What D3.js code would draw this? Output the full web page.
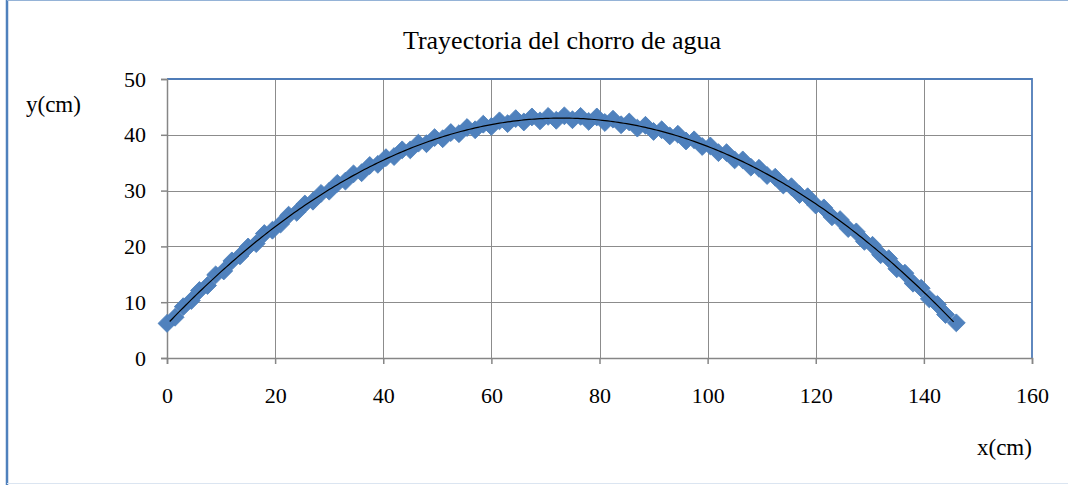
<!DOCTYPE html>
<html>
<head>
<meta charset="utf-8">
<script src="https://cdn.jsdelivr.net/npm/d3@7"></script>
<style>
html,body{margin:0;padding:0;background:#fff;}
svg{display:block;}
text{font-family:"Liberation Serif","Times New Roman",serif;fill:#000;}
</style>
</head>
<body>
<svg id="chart" width="1068" height="485"></svg>
<script>
const chartTitle = "Trayectoria del chorro de agua";
const xAxisTitle = "x(cm)";
const yAxisTitle = "y(cm)";
const xTicks = [0, 20, 40, 60, 80, 100, 120, 140, 160];
const yTicks = [0, 10, 20, 30, 40, 50];
const xValues = [0,1.5,3,4.5,6,7.5,9,10.5,12,13.5,15,16.5,18,19.5,21,22.5,24,25.5,27,28.5,
  30,31.5,33,34.5,36,37.5,39,40.5,42,43.5,45,46.5,48,49.5,51,52.5,54,55.5,57,58.5,
  60,61.5,63,64.5,66,67.5,69,70.5,72,73.5,75,76.5,78,79.5,81,82.5,84,85.5,87,88.5,
  90,91.5,93,94.5,96,97.5,99,100.5,102,103.5,105,106.5,108,109.5,111,112.5,114,115.5,117,118.5,
  120,121.5,123,124.5,126,127.5,129,130.5,132,133.5,135,136.5,138,139.5,141,142.5,144,146];
const yValues = [6.2,7.3,9.2,10.3,12.1,13.0,14.9,15.6,17.4,18.3,19.9,20.5,22.3,22.9,24.0,25.6,26.1,27.6,28.1,29.5,
  29.9,31.3,31.7,33.0,33.2,34.5,34.7,35.9,36.1,37.3,37.3,38.5,38.4,39.5,39.3,40.4,40.2,41.3,40.9,41.9,
  41.5,42.5,42.0,42.9,42.3,43.2,42.5,43.3,42.6,43.4,42.7,43.3,42.4,43.2,42.2,42.8,41.8,42.3,41.2,41.7,
  40.6,40.9,39.8,40.1,38.9,39.1,37.9,38.0,36.8,36.8,35.5,35.5,34.2,34.0,32.7,32.4,31.0,30.7,29.3,28.9,
  27.4,26.9,25.3,24.8,23.2,22.6,20.9,20.2,18.5,17.8,16.0,15.2,13.4,12.5,10.6,9.6,7.8,6.3];

(function () {
const data = xValues.map((x, i) => ({x, y: yValues[i]}));

const svg = d3.select("#chart");
const W = 1068, H = 485;
const pLeft = 167, pRight = 1032, pTop = 79, pBottom = 358;

const x = d3.scaleLinear().domain([0, 160]).range([pLeft, pRight]);
const y = d3.scaleLinear().domain([0, 50]).range([pBottom, pTop]);

// outer chart border
svg.append("line").attr("x1", 7).attr("x2", 7).attr("y1", 0).attr("y2", H)
  .attr("stroke", "#4f81bd").attr("stroke-width", 2.5);
svg.append("line").attr("x1", 7).attr("x2", W).attr("y1", 0.5).attr("y2", 0.5)
  .attr("stroke", "#95b3d7").attr("stroke-width", 1);
svg.append("line").attr("x1", 7).attr("x2", W).attr("y1", 483.5).attr("y2", 483.5)
  .attr("stroke", "#dbe5f1").attr("stroke-width", 1);

// gridlines
const grid = svg.append("g");
grid.selectAll(".vg").data(xTicks.filter(d => d > 0 && d < 160)).join("line")
  .attr("x1", d => Math.round(x(d)) + 0.5).attr("x2", d => Math.round(x(d)) + 0.5)
  .attr("y1", pTop).attr("y2", pBottom)
  .attr("stroke", "#8c8c8c").attr("stroke-width", 1);
grid.selectAll(".hg").data(yTicks.filter(d => d > 0 && d < 50)).join("line")
  .attr("x1", pLeft).attr("x2", pRight)
  .attr("y1", d => Math.round(y(d)) + 0.5).attr("y2", d => Math.round(y(d)) + 0.5)
  .attr("stroke", "#8c8c8c").attr("stroke-width", 1);

// plot-area top and right border
svg.append("path")
  .attr("d", `M${pLeft},${pTop}H${pRight}V${pBottom}`)
  .attr("fill", "none").attr("stroke", "#4f7cb8").attr("stroke-width", 1.8);

// axes
const xAxis = svg.append("g").attr("transform", `translate(0,${pBottom})`)
  .call(d3.axisBottom(x).tickValues(xTicks).tickSize(6).tickPadding(23).tickFormat(d3.format("d")));
const yAxis = svg.append("g").attr("transform", `translate(${pLeft},0)`)
  .call(d3.axisLeft(y).tickValues(yTicks).tickSize(6).tickPadding(15).tickFormat(d3.format("d")));
[xAxis, yAxis].forEach(a => {
  a.select(".domain").attr("stroke", "#868686").attr("stroke-width", 1.5);
  a.selectAll(".tick line").attr("stroke", "#868686").attr("stroke-width", 1.5);
  a.selectAll(".tick text").attr("font-family", "Liberation Serif").attr("font-size", 22).attr("fill", "#000");
});

// markers (diamonds)
svg.append("g").selectAll("path").data(data).join("path")
  .attr("d", d3.symbol().type(d3.symbolSquare).size(160))
  .attr("transform", d => `translate(${x(d.x)},${y(d.y)}) rotate(45)`)
  .attr("fill", "#4f81bd").attr("stroke", "#4a7ebb").attr("stroke-width", 0.8);

// quadratic least-squares trendline through the data
const s = [0,0,0,0,0], t = [0,0,0];
data.forEach(d => {
  let p = 1;
  for (let k = 0; k < 5; k++) { s[k] += p; if (k < 3) t[k] += p * d.y; p *= d.x; }
});
const M = [[s[0], s[1], s[2], t[0]], [s[1], s[2], s[3], t[1]], [s[2], s[3], s[4], t[2]]];
for (let i = 0; i < 3; i++) {
  for (let j = i + 1; j < 3; j++) {
    const f = M[j][i] / M[i][i];
    for (let k = i; k < 4; k++) M[j][k] -= f * M[i][k];
  }
}
const c = [0,0,0];
for (let i = 2; i >= 0; i--) {
  let v = M[i][3];
  for (let k = i + 1; k < 3; k++) v -= M[i][k] * c[k];
  c[i] = v / M[i][i];
}
const xs = d3.range(0.5, 145.6, 0.5);
const line = d3.line().x(d => x(d)).y(d => y(c[0] + c[1] * d + c[2] * d * d));
svg.append("path").datum(xs).attr("d", line)
  .attr("fill", "none").attr("stroke", "#000").attr("stroke-width", 1.2);

// titles
svg.append("text").attr("x", 562).attr("y", 49).attr("text-anchor", "middle")
  .attr("font-size", 26).text(chartTitle);
svg.append("text").attr("x", 26).attr("y", 112).attr("font-size", 23).text(yAxisTitle);
svg.append("text").attr("x", 977).attr("y", 455).attr("font-size", 23).text(xAxisTitle);
})();
</script>
</body>
</html>
